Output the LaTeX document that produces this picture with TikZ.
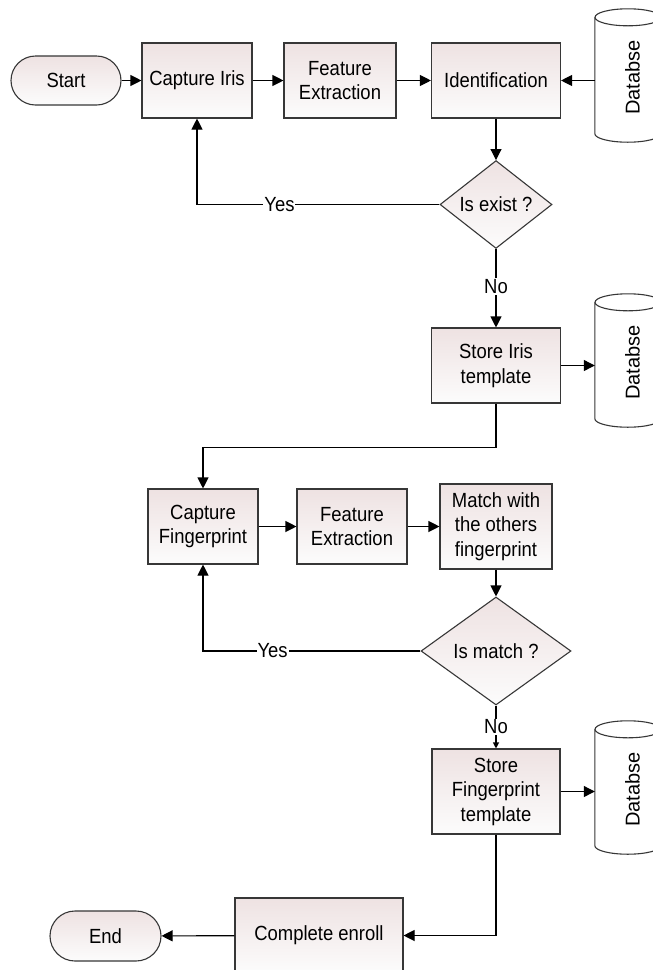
\documentclass[tikz,border=0pt]{standalone}
\usepackage{fontspec}
\setmainfont{Liberation Sans}[FakeStretch=0.9]
\newfontfamily\dbfont{Liberation Sans}
\usetikzlibrary{shapes.geometric,arrows.meta}
\definecolor{boxtop}{RGB}{238,226,226}
\definecolor{boxbot}{RGB}{252,252,252}
\definecolor{edgec}{RGB}{55,55,55}
\tikzset{
  base/.style={draw=edgec, line width=1.1pt, top color=boxtop, bottom color=boxbot,
    font=\fontsize{20.5}{24.5}\selectfont, align=center, inner sep=0pt},
  proc/.style={base, rectangle, minimum height=75pt},
  term/.style={base, rectangle, rounded corners=24.5pt, minimum width=110pt, minimum height=49pt},
  decide/.style={base, diamond},
  arr/.style={line width=1.1pt, -{Triangle[length=11pt,width=11pt]}},
  smallarr/.style={line width=1.1pt, -{Triangle[length=6pt,width=6pt]}},
  lbl/.style={fill=white, inner sep=1pt, font=\fontsize{20.5}{24.5}\selectfont},
  dbline/.style={draw=edgec, line width=1.1pt},
  dbbox/.style={rectangle, minimum width=66pt, minimum height=116pt, inner sep=0pt},
  dbtext/.style={rotate=90, font=\dbfont\fontsize{20}{24}\selectfont, inner sep=0pt},
}
\newcommand\dbcyl[3]{%
  \node[dbbox] (#1) at (#2,#3) {};
  \node[dbtext, yshift=-4.5pt, xshift=-2pt] (#1-t) at (#1) {Databse};
  \draw[dbline] (#1.north west) -- (#1.south west)
     arc[start angle=180, end angle=360, x radius=33pt, y radius=8.5pt] -- (#1.north east);
  \draw[dbline] (#1.north) ellipse [x radius=33pt, y radius=8.5pt];
}
\begin{document}
\begin{tikzpicture}[x=1pt,y=1pt]
\useasboundingbox (0,0) rectangle (653,-970);
\fill[white] (0,0) rectangle (653,-970);

% top row
\node[term] (start) at (66,-80.5) {Start};
\node[proc, minimum width=110pt] (capiris) at (197,-80.5) {Capture Iris};
\node[proc, minimum width=112pt] (fe1) at (340,-80.5) {Feature\\Extraction};
\node[proc, minimum width=129pt] (ident) at (496,-80.5) {Identification};
\dbcyl{db1}{628}{-75.5}
\node[decide, minimum width=112pt, minimum height=73pt] (exist) at (496,-204.5) {Is exist ?};

\node[proc, minimum width=129pt] (storeiris) at (496,-365.5) {Store Iris\\template};
\dbcyl{db2}{628}{-360.5}

% fingerprint row
\node[proc, minimum width=110pt] (capfp) at (203,-526.5) {Capture\\Fingerprint};
\node[proc, minimum width=110pt] (fe2) at (352,-526.5) {Feature\\Extraction};
\node[proc, minimum width=112pt, minimum height=85pt] (match) at (496,-526.5) {Match with\\the others\\fingerprint};
\node[decide, minimum width=150pt, minimum height=108pt] (ismatch) at (496,-651) {Is match ?};

\node[proc, minimum width=128pt, minimum height=85pt] (storefp) at (496,-791.5) {Store\\Fingerprint\\template};
\dbcyl{db3}{628}{-787.5}

\node[proc, minimum width=168pt] (complete) at (319,-935.5) {Complete enroll};
\node[term, minimum width=111pt, minimum height=50pt, rounded corners=25pt] (endn) at (105.5,-936) {End};

% connectors
\draw[arr] (start) -- (capiris);
\draw[arr] (capiris) -- (fe1);
\draw[arr] (fe1) -- (ident);
\draw[arr] (db1.west |- ident.east) -- (ident.east);
\draw[arr] (ident.south) -- (exist.north);
\draw[arr] (exist.west) -| node[lbl, pos=0.33] {Yes} (capiris.south);
\draw[arr] (exist.south) -- node[lbl, pos=0.48] {No} (storeiris.north);
\draw[arr] (storeiris.east) -- (storeiris.east -| db2.west);
\draw[arr] (storeiris.south) -- ++(0,-44) -| (capfp.north);

\draw[arr] (capfp) -- (fe2);
\draw[arr] (fe2) -- (match);
\draw[arr] (match.south) -- (ismatch.north);
\draw[arr] (ismatch.west) -| node[lbl, pos=0.34] {Yes} (capfp.south);
\draw[smallarr] (ismatch.south) -- node[lbl] {No} (storefp.north);
\draw[arr] (storefp.east) -- (storefp.east -| db3.west);
\draw[arr] (storefp.south) |- (complete.east);
\draw[arr] (complete) -- (endn);
\end{tikzpicture}
\end{document}
